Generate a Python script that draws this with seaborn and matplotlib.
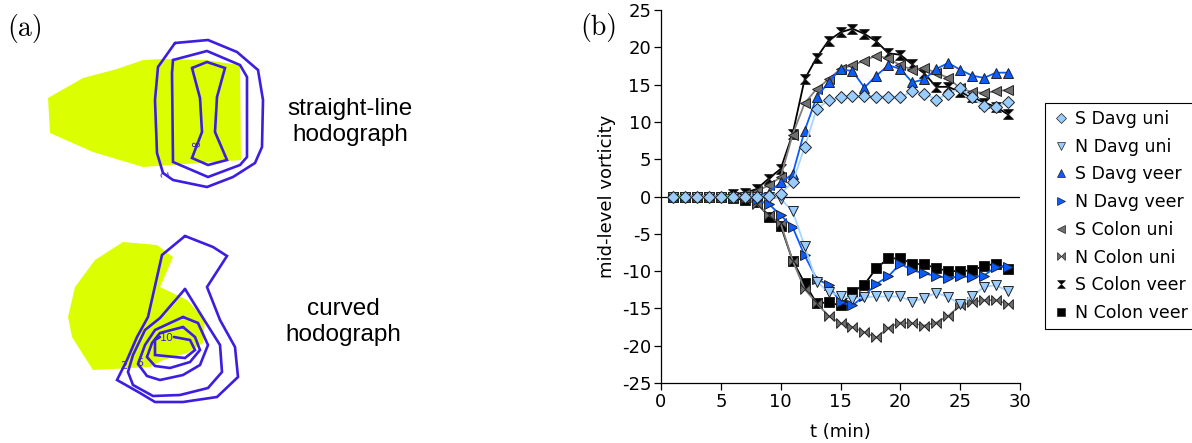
import numpy as np
import pandas as pd
import matplotlib
matplotlib.use("Agg")
import matplotlib.pyplot as plt
from matplotlib.path import Path
from matplotlib.lines import Line2D
import seaborn as sns

# ---------------- data: mid-level vorticity time series ----------------
t_min = list(range(1, 30))

s_davg_uni = [0, 0, 0, 0, 0, 0, 0, 0, 0.1, 0.4, 1.9, 6.6, 11.7, 12.9, 13.3, 13.5, 13.5,
              13.4, 13.4, 13.3, 14.1, 13.8, 13.0, 13.8, 14.5, 13.3, 12.1, 12.0, 12.7]
n_davg_uni = [0, 0, 0, 0, 0, 0, 0, 0, 0, -0.3, -2.0, -6.6, -11.4, -12.8, -13.3, -13.7, -13.5,
              -13.4, -13.4, -13.4, -14.1, -13.6, -12.9, -13.5, -14.4, -13.4, -12.1, -11.9, -12.7]
s_davg_veer = [0, 0, 0, 0, 0, 0, 0, 0.2, 0.5, 1.9, 3.0, 8.8, 13.3, 15.3, 17.1, 16.8, 14.6,
               16.2, 17.6, 17.1, 15.3, 15.7, 17.1, 17.9, 17.0, 16.2, 15.9, 16.6, 16.6]
n_davg_veer = [0, 0, 0, 0, 0, 0, 0, -0.5, -1.0, -2.5, -4.1, -7.9, -11.0, -11.9, -14.2, -14.6, -13.3,
               -11.7, -10.7, -9.0, -9.9, -10.3, -10.7, -10.9, -10.7, -10.8, -10.6, -9.4, -9.5]
s_colon_uni = [0, 0, 0, 0, 0, 0, 0.3, 0.7, 1.5, 2.6, 8.3, 12.5, 14.4, 15.7, 17.1, 17.6, 18.2,
               18.9, 18.5, 17.6, 17.0, 17.2, 16.6, 15.9, 14.5, 14.0, 13.9, 14.1, 14.3]
n_colon_uni = [0, 0, 0, 0, 0, 0, -0.3, -1.0, -2.5, -3.6, -8.6, -12.4, -14.3, -16.0, -17.0, -17.5, -18.2,
               -18.9, -17.6, -16.9, -17.0, -17.3, -16.9, -16.0, -14.6, -14.2, -13.9, -13.9, -14.4]
s_colon_veer = [0, 0, 0, 0, 0, 0.3, 0.5, 1.0, 2.4, 3.7, 8.4, 15.7, 18.6, 20.9, 22.0, 22.5, 21.8,
                20.8, 19.2, 19.0, 17.7, 16.5, 14.7, 14.7, 14.0, 13.3, 12.6, 12.0, 11.0]
n_colon_veer = [0, 0, 0, 0, 0, -0.2, -0.5, -0.8, -2.7, -3.9, -8.6, -11.6, -14.3, -14.2, -14.6, -12.8, -11.8,
                -9.6, -8.3, -8.3, -9.0, -9.1, -9.6, -10.0, -10.0, -9.9, -9.3, -9.0, -9.7]

series_names = ["S Davg uni", "N Davg uni", "S Davg veer", "N Davg veer",
                "S Colon uni", "N Colon uni", "S Colon veer", "N Colon veer"]
series_values = [s_davg_uni, n_davg_uni, s_davg_veer, n_davg_veer,
                 s_colon_uni, n_colon_uni, s_colon_veer, n_colon_veer]

x_ticks = [0, 5, 10, 15, 20, 25, 30]
y_ticks = [-25, -20, -15, -10, -5, 0, 5, 10, 15, 20, 25]

# ---------------- data: hodograph panel outlines (panel pixel frame) ----------------
top_shade = [(48, 98), (83, 78), (117, 69), (143, 60), (163, 59), (205, 60), (240, 65),
             (241, 160), (143, 167), (93, 152), (50, 133)]
top_c2 = [(175, 43), (208, 40), (237, 52), (258, 70), (263, 100), (262, 147), (255, 163),
          (233, 177), (207, 187), (173, 180), (163, 173), (157, 153), (155, 100), (158, 67), (175, 43)]
top_c4 = [(173, 60), (207, 51), (240, 65), (247, 77), (247, 157), (240, 165), (208, 177),
          (173, 162), (172, 73), (173, 60)]
top_c8 = [(192, 68), (207, 62), (225, 68), (217, 97), (215, 132), (227, 160), (208, 165),
          (192, 158), (202, 132), (200, 98), (192, 68)]

bot_shade = [(123, 242), (157, 245), (173, 257), (160, 287), (187, 300), (205, 320), (203, 343),
             (187, 353), (163, 360), (150, 367), (93, 370), (82, 353), (72, 337), (68, 317),
             (75, 287), (95, 260)]
bot_c2 = [(185, 236), (213, 247), (227, 256), (207, 287), (220, 320), (235, 347), (238, 377),
          (217, 397), (183, 402), (155, 402), (140, 393), (117, 380), (127, 360), (137, 337),
          (148, 317), (162, 255), (185, 236)]
bot_c4 = [(185, 289), (203, 318), (220, 345), (222, 372), (208, 388), (180, 395), (153, 396),
          (133, 385), (128, 372), (133, 355), (145, 330), (160, 318), (185, 289)]
bot_c6 = [(183, 317), (198, 323), (208, 345), (200, 365), (183, 375), (160, 380), (147, 376),
          (138, 364), (145, 345), (155, 330), (183, 317)]
bot_c8 = [(183, 327), (195, 337), (200, 350), (190, 362), (170, 368), (155, 366), (147, 357),
          (152, 343), (160, 333), (183, 327)]
bot_c10 = [(174, 337), (190, 340), (195, 350), (185, 358), (155, 355), (155, 340), (160, 337)]

# ---------------- styling ----------------
sns.set_theme(style="white")
plt.rcParams["font.family"] = ["DejaVu Sans"]
plt.rcParams["axes.unicode_minus"] = False
plt.rcParams["text.color"] = "black"
plt.rcParams["axes.labelcolor"] = "black"

fig = plt.figure(figsize=(11.92, 4.43), dpi=100)

# ---- panel (a): hodograph sketches ----
axa = fig.add_axes([0, 0, 560 / 1192, 1])
axa.set_xlim(0, 560)
axa.set_ylim(443, 0)
axa.axis("off")

shade_col = "#dcff00"
line_col = "#3c1ee0"

for poly in (top_shade, bot_shade):
    xs, ys = zip(*poly)
    axa.fill(xs, ys, color=shade_col, lw=0)
for poly in (top_c2, top_c4, top_c8, bot_c2, bot_c4, bot_c6, bot_c8, bot_c10):
    xs, ys = zip(*poly)
    axa.plot(xs, ys, color=line_col, lw=1.9, solid_joinstyle="miter")

for txt, x, y, rot, fs in [("8", 197, 144, 90, 7), ("2", 166, 173, 100, 7),
                           ("2", 124, 366, 0, 8), ("6", 140, 363, 0, 8), ("10", 167, 338, 0, 8)]:
    axa.text(x, y, txt, color=line_col, fontsize=fs, rotation=rot,
             ha="center", va="center", family="DejaVu Sans")

axa.text(350, 122, "straight-line\nhodograph", fontsize=17.5, family="Liberation Sans",
         ha="center", va="center", linespacing=1.2, color="black")
axa.text(343, 322, "curved\nhodograph", fontsize=17.5, family="Liberation Sans",
         ha="center", va="center", linespacing=1.2, color="black")
axa.text(7, 28, "(a)", fontsize=20, family="cmr10", ha="left", va="center")
fig.text(580 / 1192, 1 - 28 / 443, "(b)", fontsize=20, family="cmr10", ha="left", va="center")

# ---- panel (b): vorticity time series ----
axb = fig.add_axes([661 / 1192, 1 - 383 / 443, 359 / 1192, 373 / 443])

hourglass = Path([(-1, 1), (1, 1), (0, 0), (-1, 1), (-1, -1), (1, -1), (0, 0), (-1, -1)],
                 [Path.MOVETO, Path.LINETO, Path.LINETO, Path.CLOSEPOLY,
                  Path.MOVETO, Path.LINETO, Path.LINETO, Path.CLOSEPOLY])
bowtie = Path([(1, 1), (1, -1), (0, 0), (1, 1), (-1, 1), (-1, -1), (0, 0), (-1, 1)],
              [Path.MOVETO, Path.LINETO, Path.LINETO, Path.CLOSEPOLY,
               Path.MOVETO, Path.LINETO, Path.LINETO, Path.CLOSEPOLY])

light = "#99ccff"
blue = "#0a5cff"
grey = "#707070"
styles = {
    "S Davg uni": dict(marker="D", face=light, line="#a8d4ff", ms=6.0),
    "N Davg uni": dict(marker="v", face=light, line="#a8d4ff", ms=7.5),
    "S Davg veer": dict(marker="^", face=blue, line=blue, ms=7.5),
    "N Davg veer": dict(marker=">", face=blue, line=blue, ms=7.5),
    "S Colon uni": dict(marker="<", face=grey, line="#808080", ms=7.5),
    "N Colon uni": dict(marker=bowtie, face=grey, line="#808080", ms=7.0),
    "S Colon veer": dict(marker=hourglass, face="black", line="black", ms=7.0),
    "N Colon veer": dict(marker="s", face="black", line="black", ms=7.0),
}

frame = pd.DataFrame({"t": t_min})
for name, vals in zip(series_names, series_values):
    frame[name] = vals

axb.axhline(0, color="black", lw=0.9, zorder=1)
for name in reversed(series_names):
    st = styles[name]
    sns.lineplot(data=frame, x="t", y=name, ax=axb, color=st["line"], lw=1.3,
                 marker=st["marker"], markersize=st["ms"], markerfacecolor=st["face"],
                 markeredgecolor="#222222", markeredgewidth=0.7, legend=False)

axb.set_xlim(0, 30)
axb.set_ylim(-25, 25)
axb.set_xticks(x_ticks)
axb.set_yticks(y_ticks)
axb.set_xlabel("t (min)", fontsize=13, labelpad=9)
axb.set_ylabel("mid-level vorticity", fontsize=13, labelpad=4)
axb.tick_params(axis="both", direction="out", length=5, width=0.9, labelsize=13,
                bottom=True, left=True, pad=2, colors="black")
for side in ("top", "right"):
    axb.spines[side].set_visible(False)
for side in ("left", "bottom"):
    axb.spines[side].set_color("black")
    axb.spines[side].set_linewidth(0.9)

handles = []
for name in series_names:
    st = styles[name]
    handles.append(Line2D([], [], linestyle="none", marker=st["marker"],
                          markersize=st["ms"] * 0.8, markerfacecolor=st["face"],
                          markeredgecolor="#222222", markeredgewidth=0.5))
leg = fig.legend(handles, series_names, loc="upper left",
                 bbox_to_anchor=(1045 / 1192, 1 - 103 / 443), fontsize=12.5,
                 frameon=True, fancybox=False, edgecolor="black", framealpha=1,
                 labelspacing=0.56, handletextpad=0.3, handlelength=1.0,
                 borderpad=0.4, borderaxespad=0)
leg.get_frame().set_linewidth(0.8)

fig.savefig("out.png", dpi=100)
